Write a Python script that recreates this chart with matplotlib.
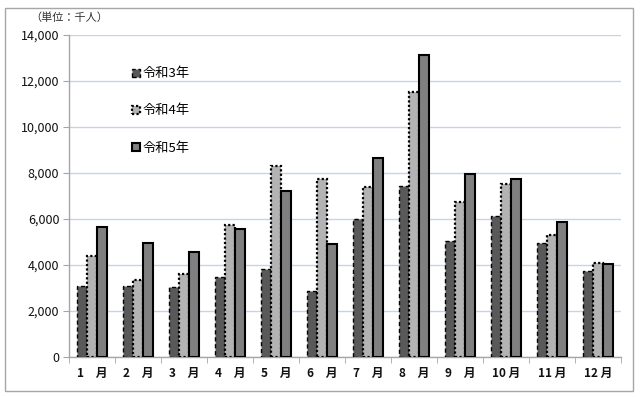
import matplotlib
matplotlib.use("Agg")
import matplotlib.pyplot as plt
import numpy as np
from matplotlib.patches import Rectangle

plt.rcParams['font.family'] = ['Noto Sans CJK JP', 'DejaVu Sans']

months = ["1　月", "2　月", "3　月", "4　月", "5　月", "6　月", "7　月", "8　月", "9　月", "10 月", "11 月", "12 月"]
series_names = ["令和3年", "令和4年", "令和5年"]
r3 = [3070, 3100, 3040, 3460, 3810, 2850, 6020, 7440, 5030, 6130, 4970, 3720]
r4 = [4400, 3360, 3620, 5730, 8300, 7720, 7380, 11500, 6760, 7500, 5290, 4070]
r5 = [5670, 4960, 4550, 5580, 7200, 4930, 8660, 13130, 7940, 7750, 5860, 4060]
yticks = [0, 2000, 4000, 6000, 8000, 10000, 12000, 14000]

fig = plt.figure(figsize=(6.42, 3.97), dpi=100)
fig.patches.append(Rectangle((5/642, 1-391/397), 628/642, 383/397, transform=fig.transFigure,
                             fill=False, edgecolor="#a6a6a6", linewidth=1.0))
ax = fig.add_axes([69/642, 1-357/397, 552/642, 322/397])

x = np.arange(len(months))
w = 0.22
styles = [
    dict(color="#595959", edgecolor="#000000", linestyle=(0, (3, 2)), linewidth=1.0),
    dict(color="#b3b3b3", edgecolor="#000000", linestyle=(0, (1, 1)), linewidth=1.6),
    dict(color="#808080", edgecolor="#000000", linestyle="-", linewidth=1.5),
]
for i, (vals, st) in enumerate(zip([r3, r4, r5], styles)):
    ax.bar(x + (i - 1) * w, vals, width=w, label=series_names[i], zorder=3,
           facecolor=st["color"], edgecolor=st["edgecolor"], linestyle=st["linestyle"],
           linewidth=st["linewidth"])

ax.set_xlim(-0.5, len(months) - 0.5)
ax.set_ylim(0, 14000)
ax.set_yticks(yticks)
ax.set_yticklabels([f"{v:,}" for v in yticks], fontsize=9, color="#111111")
ax.yaxis.grid(True, color="#c5d3ec", linewidth=1.0, zorder=0)
ax.set_axisbelow(True)

ax.set_xticks(x)
ax.set_xticklabels(months, fontsize=8.5, color="#111111", fontweight="bold")
ax.set_xticks(np.arange(-0.5, len(months), 1), minor=True)
ax.tick_params(axis="x", which="major", length=0, pad=7)
ax.tick_params(axis="x", which="minor", length=4, color="#a6a6a6", direction="out")
ax.tick_params(axis="y", length=4, color="#a6a6a6", direction="out", pad=3)

for s in ["top", "right"]:
    ax.spines[s].set_visible(False)
for s in ["left", "bottom"]:
    ax.spines[s].set_color("#a6a6a6")
    ax.spines[s].set_linewidth(1.0)

fig.text(30/642, 1-18/397, "（単位：千人）", fontsize=8, color="#333333", va="center", ha="left")

leg = ax.legend(loc="upper left", bbox_to_anchor=(0.093, 0.936), frameon=False, fontsize=9.5,
                handlelength=0.6, handleheight=0.6, handletextpad=0.15, labelspacing=1.82)

fig.savefig("out.png", dpi=100)
